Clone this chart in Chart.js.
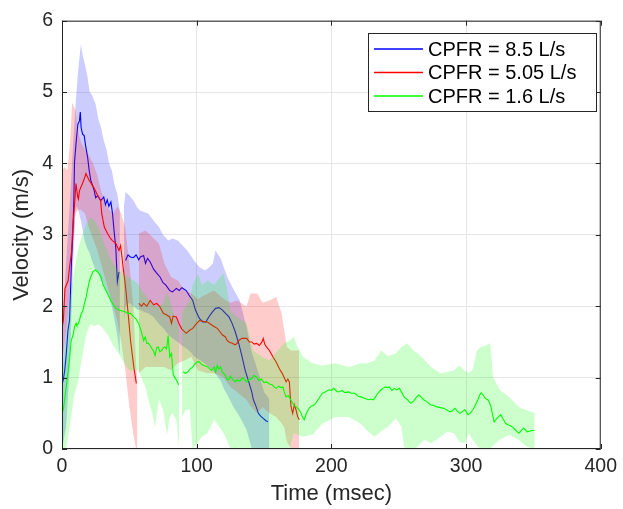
<!DOCTYPE html>
<html>
<head>
<meta charset="utf-8">
<script src="https://cdn.jsdelivr.net/npm/chart.js@4.4.1/dist/chart.umd.min.js"></script>
<style>
  html,body{margin:0;padding:0;background:#fff;}
  #wrap{width:623px;height:509px;}
</style>
</head>
<body>
<div id="wrap"><canvas id="grafico" width="623" height="509"></canvas></div>
<script>
// ===============================
// DATA (time in msec, velocity in m/s)
// ===============================

const seriesNames = ["CPFR = 8.5 L/s", "CPFR = 5.05 L/s", "CPFR = 1.6 L/s"];
const xTicks = [0, 100, 200, 300, 400];
const yTicks = [0, 1, 2, 3, 4, 5, 6];

// mean lines: [t, v], null = gap
const blueLine = [
  [0,0.9],[1,0.97],[2,1.1],[3,1.29],[4.4,1.66],[5.6,1.8],[7,2.6],[8,3.0],[8.8,3.48],[9.3,4.02],
  [10.5,4.3],[11.8,4.55],[13,4.6],[13.6,4.72],[14.2,4.5],[15.3,4.41],[16.5,4.39],[17.5,4.25],[19,4.09],
  [20.2,3.9],[21.4,3.76],[22.6,3.7],[23.9,3.62],[25,3.52],[26.5,3.55],[28.7,3.48],[30.2,3.51],[31,3.53],
  [32.3,3.42],[33.6,3.49],[34.8,3.4],[36.3,3.46],[37.5,3.3],[38.7,3.05],[40,2.8],[41.1,2.34],[42.3,2.48],
  [44.5,null],
  [47.2,2.64],[49,2.72],[50.8,2.69],[53,2.68],[55,2.72],[57,2.65],[58.2,2.69],[60.6,2.71],[62,2.6],
  [63.5,2.67],[65.5,2.62],[68,2.52],[70,2.47],[72.8,2.41],[75,2.33],[77,2.3],[80,2.22],[82,2.2],
  [84.9,2.25],[87,2.22],[89,2.26],[92.2,2.22],[94.5,2.15],[97.1,2.08],[99,1.95],[102,1.83],[104.5,1.78],
  [106.8,1.78],[109,1.85],[111.7,1.92],[114,1.97],[116.6,1.98],[119,1.95],[121.4,1.9],[124,1.85],
  [126.3,1.76],[128.5,1.65],[131.2,1.48],[133.6,1.3],[136,1.1],[138.5,0.95],[140.9,0.8],[142.1,0.69],
  [144,0.6],[145.8,0.5],[147.5,0.46],[149.4,0.43],[151.2,0.4],[153,0.38]
];

const redLine = [
  [0,1.69],[1,1.8],[2.2,2.25],[3.3,2.3],[4.6,2.36],[5.6,2.55],[7,2.75],[8,3.1],[9.5,3.48],[10.4,3.72],
  [11.7,3.53],[12.2,3.5],[13,3.62],[14.1,3.67],[15.2,3.72],[16.6,3.79],[17.8,3.86],[18.5,3.83],[20.2,3.76],
  [21.7,3.72],[22.6,3.69],[24,3.65],[26.5,3.55],[28.7,3.48],[29.5,3.3],[31.4,3.11],[33.8,3.02],[36,2.95],
  [37.4,2.92],[40,2.88],[42.3,2.78],[43.5,2.85],[44.8,2.64],[46,2.45],[47.2,2.27],[48.9,1.94],[50.9,1.52],
  [53.3,1.15],[55.2,0.92],
  [56.2,null],
  [57,2.04],[59,2.0],[60.6,2.04],[63,2.0],[65.5,2.08],[68,2.02],[70.3,2.04],[72.5,2.0],[75.2,1.9],
  [77.5,1.88],[80,1.85],[81.3,1.76],[82.5,1.86],[84.9,1.85],[87,1.75],[89,1.68],[92.2,1.62],[94.5,1.66],
  [97.1,1.69],[99.5,1.75],[102,1.8],[104.5,1.79],[106.8,1.78],[108,1.78],[111.7,1.73],[113.5,1.71],
  [115.3,1.69],[116.6,1.66],[119,1.6],[121.4,1.57],[122.6,1.52],[124,1.5],[126.3,1.48],[128.5,1.46],
  [130,1.48],[131.2,1.52],[133.6,1.55],[136,1.55],[137.2,1.55],[139,1.5],[140.9,1.5],[142.7,1.47],
  [144.5,1.48],[146.5,1.45],[148.5,1.5],[149.4,1.55],[150.5,1.47],[151.8,1.43],[154,1.38],[156.7,1.29],
  [159,1.22],[161.5,1.12],[163.5,1.06],[165.2,0.99],[166.4,0.94],[167.7,0.98],[168.8,0.94],[170,0.6],
  [171.3,0.5],[172.5,0.62],[173.7,0.55],[175,0.45],[176.2,0.41]
];

const greenLine = [
  [0,0.5],[1,0.55],[2,0.7],[3.1,0.87],[4.4,1.06],[5.5,1.25],[6.8,1.52],[8.3,1.6],[9.3,1.71],[10.4,1.76],
  [11,1.73],[12,1.75],[12.9,1.8],[14,1.88],[15.5,1.94],[16.8,2.05],[18,2.13],[19.2,2.25],[20.4,2.36],
  [21.6,2.42],[22.8,2.48],[24.6,2.51],[25.5,2.5],[26.5,2.48],[27.8,2.45],[29,2.41],[30.5,2.3],[32.6,2.22],
  [34.5,2.15],[36.3,2.08],[38,2.02],[40,1.97],[42,1.95],[43.6,1.94],[45.5,1.93],[47.2,1.92],[49,1.9],
  [50.9,1.9],[53.3,1.85],[55,1.82],[57,1.76],[58.8,1.65],[60.6,1.52],[61.8,1.57],[63,1.48],[64.2,1.48],
  [65.4,1.45],[66.6,1.41],[67.8,1.38],[69.1,1.31],[70.3,1.42],[71.5,1.43],[72.7,1.36],[74,1.38],[75.2,1.42],
  [76.4,1.43],[77.6,1.4],[78.8,1.59],[80,1.29],[81.3,1.34],[82.5,1.06],[83.7,1.0],[84.9,0.97],[86.6,0.9],
  [88,null],
  [89.8,1.08],[91.5,1.06],[93.4,1.08],[95,1.12],[97.1,1.15],[99,1.2],[100.7,1.22],[102,1.22],[104,1.18],
  [105.6,1.17],[108,1.15],[109.3,1.13],[111,1.1],[113,1.15],[114.1,1.08],[115.3,1.17],[116.5,1.12],
  [117.7,1.15],[119,1.08],[120.5,1.05],[121.4,1.03],[122.6,0.97],[123.8,0.97],[125,1.02],[126.5,0.98],
  [128.7,0.94],[130,0.97],[132,0.95],[134,1.0],[137.2,0.94],[139,0.97],[141,0.99],[142.5,1.03],[144.5,1.01],
  [146,0.96],[148,0.98],[150,0.93],[151.8,0.94],[154,0.91],[156,0.9],[157.5,0.87],[159,0.85],[161,0.88],
  [162.5,0.86],[164,0.87],[165,0.8],[166.4,0.73],[168,0.75],[169.5,0.7],[171.3,0.64],[173,0.6],[174.5,0.58],
  [176,0.55],[177.5,0.5],[178.5,0.45],[179.8,0.41],[181.5,0.5],[183.4,0.57],[185,0.6],[186.5,0.61],
  [188.3,0.64],[190.5,0.7],[193.2,0.78],[195.5,0.8],[198,0.83],[200,0.82],[201.7,0.85],[204,0.81],
  [205.3,0.8],[208,0.82],[210,0.79],[212.6,0.8],[215,0.78],[217.5,0.78],[219.9,0.74],[222,0.73],
  [224.5,0.71],[227.2,0.69],[229.5,0.7],[231,0.69],[232.1,0.71],[234.5,0.78],[237,0.83],[238.2,0.85],
  [240,0.87],[241.8,0.86],[243,0.87],[245,0.82],[246.7,0.85],[248.5,0.83],[250.4,0.85],[252,0.8],
  [254,0.73],[255.3,0.71],[257,0.68],[258.9,0.64],[261,0.67],[263,0.72],[265,0.76],[266.5,0.73],
  [268.6,0.69],[271,0.66],[273.5,0.62],[276,0.61],[278.3,0.59],[281,0.58],[283.2,0.57],[285.5,0.55],
  [288.1,0.52],[290,0.54],[291.7,0.57],[293.5,0.53],[295.4,0.5],[297,0.52],[299,0.55],[300.2,0.52],
  [301.5,0.48],[303,0.5],[305.1,0.55],[306.5,0.6],[308.8,0.69],[310,0.75],[311.2,0.79],[312.5,0.76],
  [313.6,0.73],[315,0.7],[316.1,0.69],[317.3,0.65],[318.5,0.59],[319.7,0.48],[320.9,0.38],[322.5,0.42],
  [324,0.45],[325.8,0.48],[327.5,0.42],[329.4,0.36],[331,0.34],[332.5,0.33],[334.3,0.31],[336,0.28],
  [337.5,0.25],[339.2,0.22],[341,0.26],[342.8,0.29],[344,0.27],[345.3,0.24],[347,0.25],[349,0.26],[350.5,0.26]
];

// spread bands: [t, lower, upper], null = gap
const blueBand = [
  [0,0,1.6],[3,0.3,2.6],[6,1.2,3.5],[8,2.5,4.2],[10,3.35,4.8],[11,3.4,5.07],[12,3.35,5.3],[14,3.2,5.67],
  [15.5,3.05,5.5],[17,2.9,5.39],[19,2.8,5.21],[20.5,2.75,5.0],[22,2.65,4.97],[25,2.5,4.83],[27,2.45,4.62],
  [29,2.35,4.5],[31,2.3,4.32],[33,2.2,4.2],[35,2.1,4.0],[37,2.0,3.9],[39,1.8,3.7],[41,1.6,3.58],[43,1.3,3.34],
  [44.5,null,null],
  [46,1.8,3.4],[47.2,2.0,3.6],[50,2.05,3.55],[53,2.0,3.48],[56,1.95,3.38],[58,1.95,3.34],[61,1.92,3.32],
  [64,1.9,3.3],[68,1.85,3.2],[72,1.75,3.11],[75,1.7,3.0],[79,1.6,2.92],[82,1.55,2.95],[86,1.5,2.92],
  [89,1.45,2.86],[93,1.4,2.78],[96,1.35,2.7],[98,1.3,2.64],[102,1.25,2.55],[106,1.2,2.5],[109,1.15,2.54],
  [112,1.1,2.6],[114,1.05,2.78],[116,1.0,2.72],[118,0.95,2.66],[120,0.85,2.55],[123,0.75,2.4],
  [127,0.6,2.25],[132,0.45,2.08],[137,0.27,1.71],[141,0,1.35],[147,0,1.0],[150,0,0.8],[154,0,0.7]
];

const redBand = [
  [0,1.2,3.9],[2,1.5,3.95],[4,1.8,3.9],[6,2.3,4.3],[7.5,2.7,4.85],[10,3.3,4.75],[12,3.35,4.45],[14,3.35,4.3],
  [17,3.3,4.2],[20,3.1,4.12],[23,2.95,4.0],[26,2.8,3.85],[29,2.6,3.62],[32,2.4,3.45],[35,2.2,3.35],
  [38,2.0,3.3],[41,1.8,3.4],[44,1.5,3.3],[47,1.1,3.1],[50,0.6,2.6],[53,0.2,2.0],[55,0,1.2],[56,0,0.9],
  [56.5,null,null],
  [57,1.06,3.02],[62,1.15,3.06],[67,1.15,2.97],[72,1.15,2.88],[76,1.15,2.6],[81,1.1,2.41],[86,1.2,2.36],
  [91,1.24,2.22],[96,1.29,2.18],[101,1.1,2.1],[108,1.06,2.18],[113,1.06,2.22],[120,1.0,2.1],[125,0.87,2.05],
  [130,0.8,2.08],[137,0.69,2.0],[140,0.6,2.18],[145,0.5,2.18],[149,0.59,2.05],[154,0.5,2.08],[159,0.45,2.13],
  [163,0.36,1.9],[165,0.3,1.66],[167,0.1,1.43],[170,0,1.38],[176,0,1.38]
];

const greenBand = [
  [0,0,1.0],[3,0,1.6],[6,0.35,2.1],[9,0.75,2.5],[12,0.95,2.8],[15,1.3,3.0],[18,1.6,3.15],[21,1.75,3.25],
  [24,1.72,3.2],[27,1.75,3.1],[30,1.7,2.95],[34,1.6,2.75],[38,1.45,2.6],[42,1.35,2.5],[46,1.2,2.45],
  [50,1.1,2.4],[54,1.1,2.35],[57,1.1,2.3],[60,0.95,2.2],[62,0.87,2.15],[64,0.7,2.1],[67,0.5,2.05],
  [69,0.3,2.0],[72,0.7,2.0],[75,0.55,2.05],[78,0.2,2.2],[80,0.45,2.1],[82,0.5,1.95],[85,0.4,1.8],[87,0,1.7],
  [88,null,null],
  [89,0.45,1.9],[92,0.55,2.0],[95,0.55,2.1],[97,0,2.3],[101,0.1,2.45],[104,0.17,2.3],[108,0.22,2.36],
  [113,0.41,2.3],[117,0.3,2.4],[120,0.22,2.46],[123,0.1,2.2],[125,0,1.94],[130,0,1.85],[137,0,1.76],
  [142,0,1.38],[149,0,1.29],[154,0,1.24],[160,0,1.38],[165,0,1.48],[169,0,1.52],[172,0.22,1.57],
  [175,0.2,1.43],[179,0.17,1.29],[186,0.2,1.2],[193,0.35,1.17],[203,0.45,1.2],[213,0.45,1.15],
  [222,0.35,1.2],[227,0.25,1.2],[232,0.17,1.24],[237,0.25,1.38],[242,0.31,1.3],[248,0.43,1.34],
  [252,0.31,1.43],[254,0.03,1.45],[256,0,1.48],[261,0,1.38],[264,0.03,1.34],[269,0.13,1.25],
  [274,0.08,1.15],[281,0.17,1.06],[286,0.24,1.08],[291,0.22,1.1],[295,0.1,1.17],[299,0.08,1.1],
  [302,0.22,1.06],[305,0.13,1.12],[308,0.05,1.38],[311,0,1.43],[315,0,1.45],[318,0,1.48],[320,0.05,1.01],
  [325,0.13,0.83],[332,0.2,0.73],[339,0.13,0.59],[344,0.05,0.55],[349,0,0.52],[351,0,0.5]
];

// ===============================
// ESTILO
// ===============================

const fonte = '"Liberation Sans", Arial, Helvetica, sans-serif';
const cinza = '#262626';

function linha(arr){
  return arr.map(p => ({ x: p[0], y: p[1] }));
}

function faixa(arr, k){
  return arr.map(p => ({ x: p[0], y: p[k] }));
}

function dsLinha(label, arr, cor, ordem){
  return {
    label, data: linha(arr), borderColor: cor, backgroundColor: cor,
    borderWidth: 1.1, pointRadius: 0, fill: false, order: ordem, spanGaps: false
  };
}

function dsTopo(arr, ordem){
  return {
    label: '', data: faixa(arr, 2), borderWidth: 0, borderColor: 'rgba(0,0,0,0)',
    pointRadius: 0, fill: false, order: ordem, spanGaps: false
  };
}

function dsBase(arr, alvo, cor, ordem){
  return {
    label: '', data: faixa(arr, 1), borderWidth: 0, borderColor: 'rgba(0,0,0,0)',
    backgroundColor: cor, pointRadius: 0, fill: alvo, order: ordem, spanGaps: false
  };
}

// ===============================
// PLUGINS: caixa MATLAB + legenda
// ===============================

const caixa = {
  id: 'caixa',
  afterDatasetsDraw(chart){
    const { ctx, chartArea: a, scales } = chart;
    ctx.save();
    ctx.strokeStyle = cinza;
    ctx.lineWidth = 1;
    ctx.beginPath();
    xTicks.forEach(v => {
      const px = Math.round(scales.x.getPixelForValue(v)) + 0.5;
      ctx.moveTo(px, a.bottom); ctx.lineTo(px, a.bottom - 5);
      ctx.moveTo(px, a.top); ctx.lineTo(px, a.top + 5);
    });
    yTicks.forEach(v => {
      const py = Math.round(scales.y.getPixelForValue(v)) + 0.5;
      ctx.moveTo(a.left, py); ctx.lineTo(a.left + 5, py);
      ctx.moveTo(a.right, py); ctx.lineTo(a.right - 5, py);
    });
    ctx.stroke();
    ctx.strokeRect(a.left + 0.5, a.top + 0.5, a.right - a.left - 1, a.bottom - a.top - 1);
    ctx.restore();
  }
};

const legenda = {
  id: 'legenda',
  afterDraw(chart){
    const { ctx } = chart;
    const bx = 368, by = 33, bw = 228, bh = 78;
    ctx.save();
    ctx.fillStyle = '#fff';
    ctx.fillRect(bx, by, bw, bh);
    ctx.strokeStyle = cinza;
    ctx.lineWidth = 1;
    ctx.strokeRect(bx + 0.5, by + 0.5, bw, bh);
    ctx.font = '20px ' + fonte;
    ctx.textBaseline = 'middle';
    ctx.fillStyle = '#000';
    [0, 1, 2].forEach(i => {
      const ds = chart.data.datasets[i];
      const y = 49 + i * 23.5;
      ctx.strokeStyle = ds.borderColor;
      ctx.lineWidth = 1.4;
      ctx.beginPath();
      ctx.moveTo(374, y);
      ctx.lineTo(423, y);
      ctx.stroke();
      ctx.fillText(ds.label, 428, y + 1);
    });
    ctx.restore();
  }
};

// ===============================
// GRÁFICO
// ===============================

const ctx = document.getElementById('grafico').getContext('2d');

new Chart(ctx, {
  type: 'line',
  data: {
    datasets: [
      dsLinha(seriesNames[0], blueLine, '#0000ff', 8),
      dsLinha(seriesNames[1], redLine, '#ff0000', 5),
      dsLinha(seriesNames[2], greenLine, '#00ff00', 2),
      dsTopo(blueBand, 10),
      dsBase(blueBand, 3, 'rgba(0,0,255,0.2)', 9),
      dsTopo(redBand, 7),
      dsBase(redBand, 5, 'rgba(255,0,0,0.2)', 6),
      dsTopo(greenBand, 4),
      dsBase(greenBand, 7, 'rgba(0,255,0,0.2)', 3)
    ]
  },
  options: {
    responsive: false,
    devicePixelRatio: 1,
    animation: false,
    layout: { padding: { top: 20, right: 13, left: 0, bottom: 0 } },
    elements: { line: { tension: 0 } },
    plugins: {
      legend: { display: false },
      tooltip: { enabled: false },
      filler: { propagate: false }
    },
    scales: {
      x: {
        type: 'linear', min: 0, max: 400,
        afterBuildTicks: s => { s.ticks = xTicks.map(v => ({ value: v })); },
        afterFit: s => { s.height = 60; },
        ticks: { color: cinza, font: { family: fonte, size: 19.5 }, padding: 6, maxRotation: 0 },
        grid: { color: '#e6e6e6', drawTicks: false },
        border: { display: false },
        title: { display: true, text: 'Time (msec)', color: cinza,
                 font: { family: fonte, size: 22 }, padding: { top: 0, bottom: 2 } }
      },
      y: {
        type: 'linear', min: 0, max: 6,
        afterBuildTicks: s => { s.ticks = yTicks.map(v => ({ value: v })); },
        afterFit: s => { s.width = 62; },
        ticks: { color: cinza, font: { family: fonte, size: 19.5 }, padding: 9 },
        grid: { color: '#e6e6e6', drawTicks: false },
        border: { display: false },
        title: { display: true, text: 'Velocity (m/s)', color: cinza,
                 font: { family: fonte, size: 22 }, padding: { top: 9, bottom: 0 } }
      }
    }
  },
  plugins: [caixa, legenda]
});
</script>
</body>
</html>
